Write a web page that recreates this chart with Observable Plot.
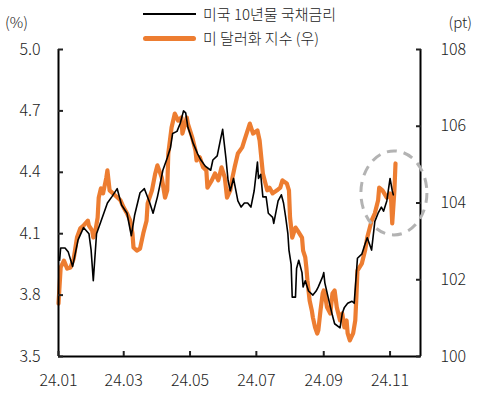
<!DOCTYPE html>
<html><head><meta charset="utf-8">
<script src="https://cdn.jsdelivr.net/npm/d3@7"></script>
<script src="https://cdn.jsdelivr.net/npm/@observablehq/plot@0.6"></script>
<style>
body{margin:0;background:#fff;}
#wrap{position:relative;width:480px;height:396px;font-family:"Noto Sans CJK KR","Noto Sans",sans-serif;font-weight:300;color:#222;}
#wrap svg{position:absolute;left:0;top:0;}
.ov{position:absolute;font-size:15px;line-height:20px;white-space:nowrap;}
.sw{position:absolute;}
</style></head><body><div id="wrap"></div>
<script>
// Series names / legend
const seriesNames = ["미국 10년물 국채금리", "미 달러화 지수 (우)"];
const unitLeft = "(%)";
const unitRight = "(pt)";

// US 10Y Treasury yield (%), left axis
const yieldDates = ["2024-01-02","2024-01-03","2024-01-07","2024-01-10","2024-01-14","2024-01-19","2024-01-24","2024-01-29","2024-01-31","2024-02-02","2024-02-05","2024-02-09","2024-02-15","2024-02-19","2024-02-24","2024-02-28","2024-03-04","2024-03-08","2024-03-11","2024-03-16","2024-03-20","2024-03-25","2024-03-28","2024-04-01","2024-04-03","2024-04-06","2024-04-10","2024-04-13","2024-04-15","2024-04-19","2024-04-22","2024-04-25","2024-04-27","2024-04-29","2024-05-01","2024-05-04","2024-05-08","2024-05-11","2024-05-15","2024-05-20","2024-05-22","2024-05-26","2024-05-29","2024-05-31","2024-06-03","2024-06-05","2024-06-07","2024-06-10","2024-06-14","2024-06-17","2024-06-20","2024-06-23","2024-06-26","2024-06-29","2024-07-02","2024-07-03","2024-07-05","2024-07-07","2024-07-10","2024-07-12","2024-07-16","2024-07-17","2024-07-21","2024-07-24","2024-07-26","2024-07-28","2024-07-30","2024-07-31","2024-08-02","2024-08-03","2024-08-06","2024-08-07","2024-08-09","2024-08-12","2024-08-13","2024-08-15","2024-08-18","2024-08-22","2024-08-25","2024-08-27","2024-08-31","2024-09-01","2024-09-02","2024-09-05","2024-09-09","2024-09-11","2024-09-16","2024-09-18","2024-09-20","2024-09-23","2024-09-27","2024-09-29","2024-10-02","2024-10-06","2024-10-09","2024-10-11","2024-10-15","2024-10-18","2024-10-21","2024-10-24","2024-10-26","2024-10-29","2024-11-01","2024-11-03","2024-11-04"];
const yieldValues = [3.97,4.03,4.03,4.01,3.94,4.07,4.13,4.10,4.02,3.87,4.10,4.16,4.25,4.28,4.32,4.24,4.20,4.09,4.19,4.30,4.32,4.25,4.20,4.28,4.33,4.41,4.47,4.52,4.59,4.60,4.64,4.70,4.69,4.62,4.59,4.54,4.49,4.46,4.43,4.41,4.46,4.48,4.56,4.61,4.47,4.36,4.31,4.37,4.26,4.23,4.25,4.25,4.23,4.31,4.45,4.37,4.39,4.28,4.28,4.20,4.18,4.15,4.26,4.29,4.25,4.18,4.10,4.02,3.95,3.79,3.79,3.93,3.97,3.91,3.84,3.87,3.82,3.80,3.82,3.84,3.89,3.91,3.86,3.79,3.70,3.66,3.64,3.71,3.74,3.76,3.77,3.76,3.98,4.00,4.05,4.08,4.02,4.16,4.20,4.23,4.21,4.26,4.37,4.31,4.29];

// US dollar index (pt), right axis
const dxyDates = ["2024-01-01","2024-01-03","2024-01-06","2024-01-09","2024-01-12","2024-01-15","2024-01-18","2024-01-21","2024-01-24","2024-01-28","2024-01-29","2024-02-01","2024-02-02","2024-02-04","2024-02-06","2024-02-07","2024-02-09","2024-02-11","2024-02-14","2024-02-15","2024-02-17","2024-02-22","2024-02-27","2024-03-01","2024-03-04","2024-03-07","2024-03-09","2024-03-10","2024-03-13","2024-03-16","2024-03-19","2024-03-22","2024-03-23","2024-03-27","2024-03-30","2024-04-01","2024-04-05","2024-04-08","2024-04-10","2024-04-11","2024-04-14","2024-04-17","2024-04-20","2024-04-23","2024-04-24","2024-04-28","2024-04-29","2024-05-03","2024-05-06","2024-05-07","2024-05-10","2024-05-13","2024-05-16","2024-05-17","2024-05-21","2024-05-24","2024-05-27","2024-05-30","2024-06-02","2024-06-04","2024-06-07","2024-06-09","2024-06-11","2024-06-14","2024-06-18","2024-06-20","2024-06-25","2024-06-28","2024-07-02","2024-07-04","2024-07-07","2024-07-11","2024-07-13","2024-07-16","2024-07-20","2024-07-23","2024-07-25","2024-07-29","2024-07-31","2024-08-01","2024-08-03","2024-08-06","2024-08-08","2024-08-12","2024-08-13","2024-08-15","2024-08-16","2024-08-17","2024-08-19","2024-08-21","2024-08-22","2024-08-24","2024-08-26","2024-08-27","2024-08-29","2024-08-31","2024-09-01","2024-09-02","2024-09-04","2024-09-07","2024-09-09","2024-09-11","2024-09-13","2024-09-16","2024-09-18","2024-09-20","2024-09-22","2024-09-23","2024-09-25","2024-09-28","2024-09-30","2024-10-01","2024-10-02","2024-10-06","2024-10-09","2024-10-11","2024-10-15","2024-10-18","2024-10-21","2024-10-22","2024-10-25","2024-10-29","2024-11-01","2024-11-02","2024-11-03","2024-11-05","2024-11-06"];
const dxyValues = [101.38,102.32,102.50,102.29,102.32,102.55,103.10,103.34,103.41,103.54,103.41,103.28,103.10,103.28,103.62,104.14,104.38,104.25,104.66,104.85,104.33,104.20,104.07,103.88,103.73,103.54,103.21,102.84,102.76,102.81,103.21,103.54,103.99,104.33,104.77,104.98,104.66,104.14,104.33,105.29,105.97,106.33,106.15,106.23,105.81,106.23,106.07,105.71,105.37,105.11,105.19,104.93,104.85,104.40,104.59,104.77,104.59,104.93,104.66,104.14,104.33,104.66,104.93,105.29,105.45,105.63,106.07,105.81,105.89,105.63,104.77,104.33,104.40,104.25,104.33,104.40,104.59,104.51,104.33,103.62,103.10,103.36,103.28,103.10,102.76,102.58,102.32,101.98,101.46,101.20,101.02,100.76,100.60,100.68,101.20,101.64,101.72,101.64,101.28,101.12,101.64,101.72,101.28,100.94,101.12,100.76,100.94,100.60,100.42,100.60,100.94,101.54,102.24,102.42,102.76,103.10,103.54,103.73,104.07,104.40,104.33,104.14,104.25,104.07,103.47,104.33,105.03];

// Axis ticks
const leftTicks = [3.5, 3.8, 4.1, 4.4, 4.7, 5.0];
const rightTicks = [100, 102, 104, 106, 108];
const xDomain = ["2024-01-01", "2024-11-29"];

// Highlight annotation (centre of dashed ellipse)
const highlightDate = "2024-11-05";
const highlightRight = 104.25;

const L0 = 3.5, L1 = 5.0, R0 = 100, R1 = 108;
const toLeft = v => L0 + (v - R0) * (L1 - L0) / (R1 - R0);
const fromLeft = v => R0 + (v - L0) * (R1 - R0) / (L1 - L0);

const yieldData = yieldDates.map((d, i) => ({date: new Date(d), v: yieldValues[i]}));
const dxyData = dxyDates.map((d, i) => ({date: new Date(d), v: toLeft(dxyValues[i])}));
const xd = xDomain.map(d => new Date(d));

const plot = Plot.plot({
  width: 480, height: 396,
  marginTop: 49, marginBottom: 40, marginLeft: 58, marginRight: 60,
  style: {fontFamily: '"Noto Sans CJK KR","Noto Sans",sans-serif', fontSize: "16px", fontWeight: 300, color: "#222", background: "transparent", overflow: "visible"},
  x: {type: "utc", domain: xd},
  y: {domain: [L0, L1]},
  marks: [
    Plot.line(dxyData, {x: "date", y: "v", stroke: "#ED7D31", strokeWidth: 4.2, strokeLinejoin: "round", strokeLinecap: "round"}),
    Plot.line(yieldData, {x: "date", y: "v", stroke: "#000", strokeWidth: 1.6, strokeLinejoin: "round"}),
    Plot.ruleX(xd, {stroke: "#000", strokeWidth: 2}),
    Plot.ruleY([L0], {stroke: "#000", strokeWidth: 2}),
    Plot.axisY({anchor: "left", ticks: leftTicks, tickFormat: d => d.toFixed(1), tickSize: -5, tickPadding: 23, strokeWidth: 2, label: null}),
    Plot.axisY({anchor: "right", ticks: rightTicks.map(toLeft), tickFormat: d => String(Math.round(fromLeft(d))), tickSize: -5, tickPadding: 25, strokeWidth: 2, label: null}),
    Plot.axisX({ticks: d3.utcMonth.every(2), tickFormat: d3.utcFormat("%y.%m"), tickSize: -5, tickPadding: 23, strokeWidth: 2, label: null})
  ]
});

const sx = plot.scale("x"), sy = plot.scale("y");
d3.select(plot).append("ellipse")
  .attr("cx", sx.apply(new Date(highlightDate)))
  .attr("cy", sy.apply(toLeft(highlightRight)))
  .attr("rx", 33).attr("ry", 42)
  .attr("fill", "none").attr("stroke", "#b3b3b3")
  .attr("stroke-width", 3).attr("stroke-dasharray", "10,7");

const wrap = document.getElementById("wrap");
wrap.appendChild(plot);

function addDiv(cls, style, text) {
  const el = document.createElement("div");
  el.className = cls;
  el.setAttribute("style", style);
  if (text) el.textContent = text;
  wrap.appendChild(el);
}
addDiv("ov", "left:5px;top:12px;", unitLeft);
addDiv("ov", "right:8px;top:12px;", unitRight);
addDiv("sw", "left:143px;top:13px;width:53px;height:2px;background:#000;");
addDiv("sw", "left:143px;top:36px;width:53px;height:5px;border-radius:3px;background:#ED7D31;");
addDiv("ov", "left:203px;top:4px;", seriesNames[0]);
addDiv("ov", "left:203px;top:28px;", seriesNames[1]);
</script>
</body></html>
